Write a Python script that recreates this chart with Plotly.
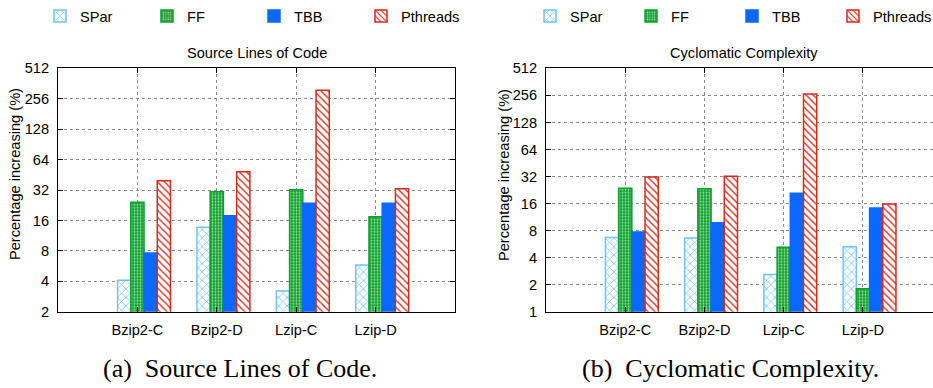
import plotly.graph_objects as go

# Benchmarks and parallel programming interfaces compared
benchmarks = ["Bzip2-C", "Bzip2-D", "Lzip-C", "Lzip-D"]
series = ["SPar", "FF", "TBB", "Pthreads"]

# Source lines of code: percentage increase over the sequential version
sloc_spar = [4.1, 13.7, 3.2, 5.8]
sloc_ff = [24.2, 30.8, 32.2, 17.4]
sloc_tbb = [7.6, 17.8, 23.7, 23.7]
sloc_pthreads = [39.5, 48.5, 310, 33]

# Cyclomatic complexity: percentage increase over the sequential version
cc_spar = [6.7, 6.6, 2.6, 5.3]
cc_ff = [23.6, 23.4, 5.2, 1.8]
cc_tbb = [7.7, 9.8, 20.8, 14.3]
cc_pthreads = [31.6, 32.2, 265, 15.8]

sloc_ticks = [2, 4, 8, 16, 32, 64, 128, 256, 512]
cc_ticks = [1, 2, 4, 8, 16, 32, 64, 128, 256, 512]

W, H = 933, 388
FONT = "Liberation Sans, Arial, Helvetica, sans-serif"
FS = 14.6

styles = {
    "SPar": dict(color="white", line=dict(color="#72c2ff", width=1.5),
                 pattern=dict(shape="x", fgcolor="#72c2ff", bgcolor="white",
                              size=6, solidity=0.25, fillmode="replace")),
    "FF": dict(color="#0d9f2b", line=dict(color="#0d9f2b", width=1.5),
               pattern=dict(shape=".", fgcolor="#a6e0b0", bgcolor="#0d9f2b",
                            size=3, solidity=0.35, fillmode="replace")),
    "TBB": dict(color="#0a68ff", line=dict(color="#0a68ff", width=1.5)),
    "Pthreads": dict(color="white", line=dict(color="#d8291c", width=1.5),
                     pattern=dict(shape="\\", fgcolor="#d8291c", bgcolor="white",
                                  size=5, solidity=0.28, fillmode="replace")),
}

bar_w = 1 / 6

fig = go.Figure()

panels = [
    ("x", "y", "legend", [sloc_spar, sloc_ff, sloc_tbb, sloc_pthreads]),
    ("x2", "y2", "legend2", [cc_spar, cc_ff, cc_tbb, cc_pthreads]),
]
for xa, ya, lg, values in panels:
    for k, (name, vals) in enumerate(zip(series, values)):
        fig.add_trace(go.Bar(
            x=benchmarks, y=vals, name=name,
            xaxis=xa, yaxis=ya, legend=lg,
            width=bar_w, offset=(k - 1.5) * bar_w,
            marker=styles[name],
        ))

# Plot-area geometry in pixels
y_top, y_bot = 68.3, 311.7
ydom = [(H - y_bot) / H, (H - y_top) / H]

axis_common = dict(
    showline=True, linecolor="black", linewidth=1,
    ticks="inside", ticklen=5, tickcolor="black",
    showgrid=True, gridcolor="#8a8a8a", griddash="dot", gridwidth=1,
    tickfont=dict(family=FONT, size=FS, color="black"),
    zeroline=False,
)

legend_common = dict(orientation="h", xanchor="left", y=1 - 16 / H, yanchor="middle",
                     entrywidthmode="pixels", bgcolor="rgba(0,0,0,0)",
                     font=dict(family=FONT, size=FS), itemclick=False, tracegroupgap=0)

fig.update_layout(
    width=W, height=H,
    margin=dict(l=0, r=0, t=0, b=0, autoexpand=False),
    paper_bgcolor="white", plot_bgcolor="white",
    barmode="overlay",
    font=dict(family=FONT, size=FS, color="black"),
    xaxis=dict(domain=[58 / W, 455 / W], range=[-1, 4], type="category",
               mirror="allticks", anchor="y", ticklabelstandoff=5, **axis_common),
    yaxis=dict(domain=ydom, type="log", range=[0.30103, 2.70927],
               tickvals=sloc_ticks, ticktext=[str(t) for t in sloc_ticks],
               mirror="allticks", anchor="x", ticklabelstandoff=5, **axis_common),
    xaxis2=dict(domain=[546 / W, 1.0], range=[-1, 3.884], type="category",
                mirror="allticks", anchor="y2", ticklabelstandoff=5, **axis_common),
    yaxis2=dict(domain=ydom, type="log", range=[0, 2.70927],
                tickvals=cc_ticks, ticktext=[str(t) for t in cc_ticks],
                mirror=False, anchor="x2", ticklabelstandoff=5, **axis_common),
    legend=dict(x=40 / W, entrywidth=62, **legend_common),
    legend2=dict(x=530 / W, entrywidth=56, **legend_common),
    showlegend=True,
)

annotations = [
    dict(text="Source Lines of Code", x=(58 + 455) / 2 / W, y=1 - 53 / H),
    dict(text="Cyclomatic Complexity", x=744 / W, y=1 - 53 / H),
    dict(text="Percentage increasing (%)", x=15 / W, y=1 - 174 / H, textangle=-90),
    dict(text="Percentage increasing (%)", x=504 / W, y=1 - 175 / H, textangle=-90),
]
for a in annotations:
    fig.add_annotation(xref="paper", yref="paper", showarrow=False,
                       xanchor="center", yanchor="middle",
                       font=dict(family=FONT, size=FS, color="black"), **a)

for text, cx in [("(a)\u00a0 Source Lines of Code.", 240), ("(b)\u00a0 Cyclomatic Complexity.", 730)]:
    fig.add_annotation(text=text, xref="paper", yref="paper", x=cx / W, y=1 - 368 / H,
                       showarrow=False, xanchor="center", yanchor="middle",
                       font=dict(family="Liberation Serif, Times New Roman, serif",
                                 size=26, color="black"))

fig.write_html("out.html")
